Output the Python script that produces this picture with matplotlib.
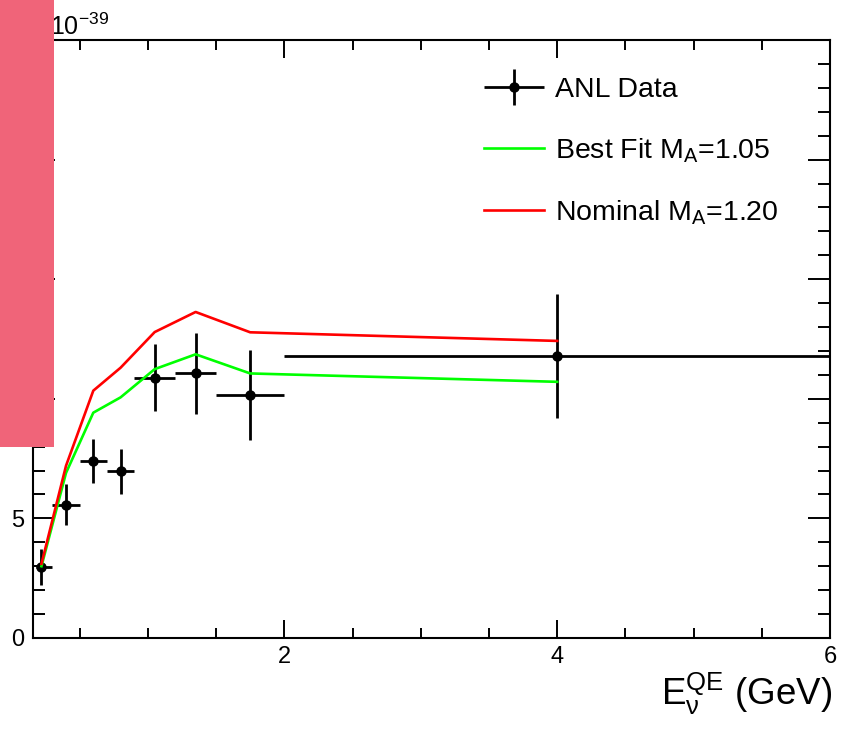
import matplotlib
matplotlib.use("Agg")
import matplotlib.pyplot as plt
from matplotlib.patches import Rectangle
from matplotlib.ticker import MultipleLocator
from matplotlib.legend_handler import HandlerErrorbar
import numpy as np

plt.rcParams['font.family'] = ['Liberation Sans', 'DejaVu Sans']
plt.rcParams['mathtext.fontset'] = 'custom'
plt.rcParams['mathtext.rm'] = 'Liberation Sans'
plt.rcParams['mathtext.it'] = 'Liberation Sans:italic'

# ANL data, bin centres / edges in E_nu (GeV), xsec in 1e-39 cm^2
e_center = [0.22, 0.40, 0.60, 0.80, 1.05, 1.35, 1.75, 4.00]
e_low = [0.18, 0.30, 0.50, 0.70, 0.90, 1.20, 1.50, 2.00]
e_high = [0.30, 0.50, 0.70, 0.90, 1.20, 1.50, 2.00, 6.00]
xsec = [2.95, 5.57, 7.39, 6.97, 10.89, 11.07, 10.17, 11.79]
xsec_err = [0.75, 0.86, 0.93, 0.95, 1.40, 1.70, 1.88, 2.58]

# model predictions at the bin centres
best_fit = [3.00, 6.90, 9.42, 10.06, 11.24, 11.86, 11.06, 10.71]
nominal = [3.10, 7.20, 10.34, 11.30, 12.79, 13.63, 12.78, 12.42]

W, H = 848, 732
fig = plt.figure(figsize=(W / 100, H / 100), dpi=100)
ax = fig.add_axes([33 / W, 1 - 638 / H, (830 - 33) / W, (638 - 40) / H])

xc = np.array(e_center)
xerr = [xc - np.array(e_low), np.array(e_high) - xc]
data = ax.errorbar(e_center, xsec, xerr=xerr, yerr=xsec_err, fmt='o',
                   color='black', ms=6.5, elinewidth=2.0, capsize=0, zorder=2)
l_fit, = ax.plot(e_center, best_fit, color='#00ff00', lw=1.9, zorder=3)
l_nom, = ax.plot(e_center, nominal, color='#ff0000', lw=1.9, zorder=3)

ax.set_xlim(0.158, 6)
ax.set_ylim(0, 25)
ax.xaxis.set_major_locator(MultipleLocator(2))
ax.xaxis.set_minor_locator(MultipleLocator(0.5))
ax.yaxis.set_major_locator(MultipleLocator(5))
ax.yaxis.set_minor_locator(MultipleLocator(1))
ax.tick_params(which='both', direction='in', top=True, right=True,
               width=1.4, labelsize=17, color='black')
ax.tick_params(axis='x', which='major', length=13, pad=6)
ax.tick_params(axis='x', which='minor', length=7)
ax.tick_params(axis='y', which='major', length=16, pad=6)
ax.tick_params(axis='y', which='minor', length=8.5)
for s in ax.spines.values():
    s.set_linewidth(1.5)

ax.legend([data, l_fit, l_nom],
          ['ANL Data', r'Best Fit M$_\mathregular{A}$=1.05',
           r'Nominal M$_\mathregular{A}$=1.20'],
          handler_map={type(data): HandlerErrorbar(xerr_size=1.05, yerr_size=0.62)},
          loc='upper left', bbox_to_anchor=(484 / W, 1 - 77 / H),
          bbox_transform=fig.transFigure, frameon=False, fontsize=20.5,
          handlelength=2.1, handletextpad=0.4, labelspacing=1.17,
          borderaxespad=0, borderpad=0)

fig.text(832 / W, 1 - 705 / H, r'E$_\mathregular{\nu}^\mathregular{QE}$ (GeV)',
         ha='right', va='baseline', fontsize=26.5)
fig.text(50 / W, 1 - 35 / H, r'10$^{-39}$', ha='left', va='baseline',
         fontsize=18)

# pink box over the left edge
fig.add_artist(Rectangle((0, 1 - 447 / H), 54 / W, 447 / H,
                         transform=fig.transFigure, facecolor='#f06479',
                         edgecolor='none', zorder=10))

fig.savefig('out.png', dpi=100)
